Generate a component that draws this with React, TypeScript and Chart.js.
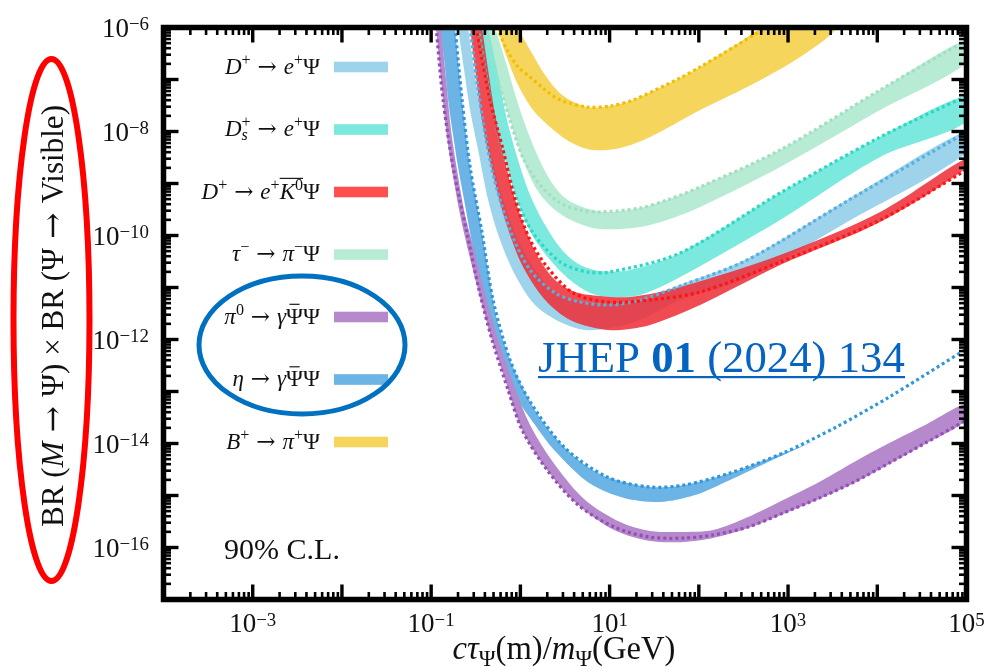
import { useEffect, useRef } from "react";
import { Chart, registerables } from "chart.js";

Chart.register(...registerables);

const FONT = '"Liberation Serif", "DejaVu Serif", serif';
const ARROW_FONT = '"DejaVu Serif", serif';

// ---- axes ----
const X_RANGE = [1e-4, 1e5];
const Y_RANGE = [1e-17, 1e-6];
const xTickExps = [-3, -1, 1, 3, 5];
const yTickExps = [-6, -8, -10, -12, -14, -16];

// ---- B+ -> pi+ Psi (yellow) ----
const bLower = [[0.548,1e-6],[0.691,2.96e-7],[0.942,7.84e-8],[1.388,2.59e-8],[2.153,1.22e-8],[3.606,6.28e-9],[6.363,4.41e-9],[13.12,4.82e-9],[28.44,7.84e-9],[103.4,2.59e-8],[348,7.18e-8],[1367,2.71e-7],[3373,1e-6]];
const bUpper = [[0.918,1e-6],[1.284,3.69e-7],[1.892,1.22e-7],[2.935,5.03e-8],[5.593,2.96e-8],[10.13,3.09e-8],[18.34,4.04e-8],[61.7,1.07e-7],[103.4,1.74e-7],[290,5.26e-7],[553,1e-6]];
const bDotted = [[0.548,1e-6],[0.709,3.69e-7],[0.942,1.74e-7],[1.284,1.12e-7],[1.892,6.29e-8],[2.787,4.04e-8],[5.593,2.96e-8],[10.13,3.09e-8],[18.34,4.04e-8],[61.7,1.07e-7],[103.4,1.74e-7],[450,7.84e-7],[553,1e-6]];

// ---- tau- -> pi- Psi (light green) ----
const tauLower = [[0.402,1e-6],[0.520,1.52e-7],[0.766,1.66e-8],[1.072,2.83e-9],[1.539,7.5e-10],[2.449,3.09e-10],[4.104,1.82e-10],[7.825,1.33e-10],[21.98,1.46e-10],[44.13,1.99e-10],[103.4,3.53e-10],[815,2.07e-9],[10780,2.59e-8],[1e5,2.08e-7]];
const tauUpper = [[0.520,1e-6],[0.674,2.37e-7],[0.992,2.59e-8],[1.461,4.41e-9],[2.153,1.17e-9],[3.170,5.26e-10],[5.313,3.38e-10],[9.376,2.83e-10],[21.98,3.38e-10],[44.13,4.82e-10],[103.4,8.57e-10],[815,4.41e-9],[10780,6.29e-8],[1e5,5.75e-7]];
const tauDotted = [[0.402,1e-6],[0.520,1.52e-7],[0.766,1.66e-8],[1.072,3.09e-9],[1.663,9.35e-10],[2.787,4.22e-10],[4.670,3.09e-10],[7.825,2.83e-10],[21.98,3.38e-10],[44.13,4.82e-10],[103.4,8.57e-10],[815,4.41e-9],[10780,6.29e-8],[1e5,5.75e-7]];

// ---- Ds+ -> e+ Psi (teal) ----
const dsLower = [[0.336,1e-6],[0.402,1.52e-7],[0.520,1.66e-8],[0.674,2.83e-9],[0.918,4.82e-10],[1.353,1.02e-10],[2.153,3.38e-11],[3.606,1.39e-11],[6.045,7.84e-12],[10.13,6.57e-12],[21.98,7.18e-12],[61.7,1.59e-11],[815,1.99e-10],[10780,3.24e-9],[1e5,1.52e-8]];
const dsUpper = [[0.435,1e-6],[0.548,1.52e-7],[0.709,1.66e-8],[0.942,2.83e-9],[1.284,6.01e-10],[1.892,1.59e-10],[2.935,5.26e-11],[4.670,2.71e-11],[7.825,2.08e-11],[16.97,2.17e-11],[61.7,4.60e-11],[815,6.57e-10],[10780,7.84e-9],[1e5,4.82e-8]];
const dsDotted = [[0.336,1e-6],[0.402,1.52e-7],[0.520,1.66e-8],[0.674,2.83e-9],[0.918,4.82e-10],[1.388,1.12e-10],[2.787,3.09e-11],[5.593,1.99e-11],[10.13,1.99e-11],[61.7,4.60e-11],[815,6.57e-10],[10780,7.84e-9],[1e5,4.82e-8]];

// ---- D+ -> e+ K0bar Psi (red) ----
const k0Lower = [[0.273,1e-6],[0.311,1.52e-7],[0.372,1.66e-8],[0.482,1.82e-9],[0.674,1.99e-10],[1.045,2.71e-11],[1.892,5.75e-12],[3.606,2.37e-12],[7.825,1.59e-12],[13.12,1.52e-12],[28.44,1.90e-12],[103.4,4.61e-12],[815,2.71e-11],[10780,1.82e-10],[1e5,1.99e-9]];
const k0Upper = [[0.372,1e-6],[0.435,1.52e-7],[0.534,1.66e-8],[0.709,1.82e-9],[0.992,2.48e-10],[1.539,4.22e-11],[2.449,1.39e-11],[4.104,8.19e-12],[7.825,6.87e-12],[16.97,6.57e-12],[61.7,1.02e-11],[815,4.22e-11],[10780,2.83e-10],[1e5,3.09e-9]];
const k0Dotted = [[0.319,1e-6],[0.457,4.04e-8],[0.640,4.41e-9],[0.873,4.82e-10],[1.284,8.19e-11],[1.993,2.48e-11],[3.899,7.84e-12],[9.376,5.26e-12],[28.44,5.75e-12],[103.4,8.19e-12],[815,3.09e-11],[10780,1.99e-10],[1e5,1.82e-9]];

// ---- D+ -> e+ Psi (light blue) ----
const dPlusLower = [[0.200,1e-6],[0.234,1.52e-7],[0.273,2.59e-8],[0.336,4.41e-9],[0.435,4.82e-10],[0.592,8.19e-11],[0.873,1.74e-11],[1.461,4.61e-12],[2.787,2.17e-12],[5.313,1.52e-12],[10.13,1.66e-12],[21.98,2.37e-12],[61.7,5.75e-12],[348,1.52e-11],[4600,1.82e-10],[1e5,3.86e-9]];
const dPlusUpper = [[0.259,1e-6],[0.303,1.52e-7],[0.362,2.59e-8],[0.457,4.41e-9],[0.640,4.82e-10],[0.942,8.19e-11],[1.461,2.17e-11],[2.449,8.19e-12],[4.670,5.26e-12],[10.13,4.82e-12],[21.98,5.75e-12],[61.7,1.12e-11],[348,3.53e-11],[4600,4.82e-10],[1e5,1.02e-8]];
const dPlusDotted = [[0.273,1e-6],[0.336,6.29e-8],[0.482,1.82e-9],[0.766,1.28e-10],[1.284,2.17e-11],[2.449,7.84e-12],[4.670,5.26e-12],[10.13,4.61e-12],[21.98,5.75e-12],[61.7,1.07e-11],[348,3.38e-11],[4600,4.60e-10],[1e5,9.77e-9]];

// ---- eta -> gamma Psibar Psi (blue) ----
const etaLower = [[0.126,1e-6],[0.140,2.37e-7],[0.155,4.04e-8],[0.176,8.57e-9],[0.200,2.07e-9],[0.234,4.82e-10],[0.273,1.12e-10],[0.319,2.71e-11],[0.372,5.75e-12],[0.457,1.33e-12],[0.592,4.04e-13],[0.942,6.87e-14],[1.461,2.27e-14],[2.387,7.50e-15],[5.890,1.74e-15],[14.54,8.95e-16],[36.83,7.50e-16],[90.9,1.02e-15],[224,1.99e-15],[568,4.22e-15],[1403,8.57e-15],[2013,1.12e-14]];
const etaUpper = [[0.185,1e-6],[0.200,2.37e-7],[0.222,4.04e-8],[0.246,8.57e-9],[0.273,2.07e-9],[0.319,4.82e-10],[0.372,1.12e-10],[0.424,2.71e-11],[0.494,5.75e-12],[0.548,2.37e-12],[0.766,4.04e-13],[1.252,6.87e-14],[1.892,2.27e-14],[3.090,8.57e-15],[5.313,3.86e-15],[9.376,2.27e-15],[27.72,1.46e-15],[68.4,1.59e-15],[224,2.71e-15],[881,6.57e-15],[2013,1.12e-14]];
const etaDotted = [[0.185,1e-6],[0.222,4.04e-8],[0.273,2.07e-9],[0.372,1.12e-10],[0.494,5.75e-12],[0.766,4.04e-13],[1.252,6.87e-14],[3.090,8.57e-15],[9.376,2.27e-15],[27.72,1.46e-15],[68.4,1.59e-15],[224,2.71e-15],[881,6.57e-15],[3460,2.07e-14],[13600,7.84e-14],[1e5,6.6e-13]];

// ---- pi0 -> gamma Psibar Psi (purple) ----
const pi0Lower = [[0.1135,1e-6],[0.129,9.77e-8],[0.147,1.07e-8],[0.171,1.82e-9],[0.211,2.48e-10],[0.259,5.26e-11],[0.336,8.95e-12],[0.457,1.33e-12],[0.674,1.66e-13],[1.045,1.82e-14],[1.993,3.09e-15],[4.436,6.57e-16],[11.23,2.17e-16],[28.44,1.33e-16],[68.4,1.28e-16],[144.6,1.52e-16],[357,2.37e-16],[881,4.41e-16],[2232,8.57e-16],[5509,1.74e-15],[13600,4.04e-15],[34440,9.77e-15],[1e5,2.83e-14]];
const pi0Upper = [[0.129,1e-6],[0.147,9.77e-8],[0.167,1.07e-8],[0.195,1.82e-9],[0.240,2.48e-10],[0.303,5.26e-11],[0.392,8.95e-12],[0.534,1.33e-12],[0.807,1.66e-13],[1.284,2.27e-14],[2.449,3.86e-15],[5.313,8.19e-16],[13.12,3.09e-16],[28.44,2.08e-16],[68.4,1.99e-16],[144.6,2.17e-16],[357,3.86e-16],[881,8.19e-16],[2232,1.82e-15],[5509,4.41e-15],[13600,1.02e-14],[34440,2.27e-14],[1e5,5.75e-14]];
const pi0Dotted = [[0.1135,1e-6],[0.136,4.04e-8],[0.176,2.07e-9],[0.252,1.12e-10],[0.344,8.95e-12],[0.482,9.77e-13],[0.728,1.07e-13],[1.045,1.82e-14],[1.993,3.09e-15],[4.436,6.57e-16],[11.23,2.48e-16],[27.72,1.59e-16],[68.4,1.52e-16],[144.6,1.74e-16],[357,2.48e-16],[881,4.60e-16],[2232,8.95e-16],[5509,1.82e-15],[13600,4.22e-15],[34440,1.02e-14],[1e5,2.83e-14]];

// ---- colours ----
const COL = {
  dPlus: "#9dd3eb", dPlusDot: "#5aafe0",
  ds: "#7be9dd", dsDot: "#2ad8c6",
  k0: "rgba(238,45,55,0.86)", k0Dot: "#ff1414", k0Legend: "#ff5050",
  tau: "#b8ebd4", tauDot: "#a0e0c0",
  pi0: "#b589cc", pi0Dot: "#9450b4",
  eta: "#6cb4e6", etaDot: "#2f96dc",
  b: "#f6d55c", bDot: "#f0c000",
};

type Run = { t: string; it?: boolean; b?: boolean; sup?: boolean; sub?: boolean; rel?: number; keep?: boolean; bar?: boolean; ovS?: boolean; ovE?: boolean; arrow?: boolean };

const ARROW: Run = { t: "→", rel: 0.3, arrow: true };

const legendEntries: { runs: Run[]; color: string }[] = [
  { color: COL.dPlus, runs: [{ t: "D", it: true }, { t: "+", sup: true }, ARROW, { t: "e", it: true }, { t: "+", sup: true }, { t: "Ψ" }] },
  { color: COL.ds, runs: [{ t: "D", it: true }, { t: "+", sup: true, keep: true }, { t: "s", sub: true, it: true }, ARROW, { t: "e", it: true }, { t: "+", sup: true }, { t: "Ψ" }] },
  { color: COL.k0Legend, runs: [{ t: "D", it: true }, { t: "+", sup: true }, ARROW, { t: "e", it: true }, { t: "+", sup: true }, { t: "K", it: true, ovS: true }, { t: "0", sup: true, ovE: true }, { t: "Ψ" }] },
  { color: COL.tau, runs: [{ t: "τ", it: true }, { t: "−", sup: true }, ARROW, { t: "π", it: true }, { t: "−", sup: true }, { t: "Ψ" }] },
  { color: COL.pi0, runs: [{ t: "π", it: true }, { t: "0", sup: true }, ARROW, { t: "γ", it: true }, { t: "Ψ", bar: true }, { t: "Ψ" }] },
  { color: COL.eta, runs: [{ t: "η", it: true }, ARROW, { t: "γ", it: true }, { t: "Ψ", bar: true }, { t: "Ψ" }] },
  { color: COL.b, runs: [{ t: "B", it: true }, { t: "+", sup: true }, ARROW, { t: "π", it: true }, { t: "+", sup: true }, { t: "Ψ" }] },
];

const yTitleRuns: Run[] = [{ t: "BR (" }, { t: "M", it: true }, ARROW, { t: "Ψ) " }, { t: "×" }, { t: " BR (Ψ" }, ARROW, { t: "Visible)" }];
const xTitleRuns: Run[] = [{ t: "c", it: true }, { t: "τ", it: true }, { t: "Ψ", sub: true }, { t: "(m)/" }, { t: "m", it: true }, { t: "Ψ", sub: true }, { t: "(GeV)" }];
const clLabel = "90% C.L.";
const refRuns: Run[] = [{ t: "JHEP " }, { t: "01", b: true }, { t: " (2024) 134" }];

function richText(ctx: CanvasRenderingContext2D, runs: Run[], x: number, y: number, s: number, raise: number, lower: number, draw: boolean) {
  let cx = x;
  let keepAdv = 0;
  let ovX = x;
  for (const r of runs) {
    const size = r.sup || r.sub ? s * 0.7 : s;
    const fam = r.arrow ? ARROW_FONT : FONT;
    ctx.font = `${r.it ? "italic " : ""}${r.b ? "bold " : ""}${size}px ${fam}`;
    const pad = (r.rel || 0) * s;
    const w = ctx.measureText(r.t).width;
    const gx = cx + pad;
    const gy = y + (r.sup ? -raise * s : r.sub ? lower * s : 0);
    if (r.ovS) ovX = gx;
    if (draw) {
      ctx.fillText(r.t, gx, gy);
      if (r.bar) ctx.fillRect(gx + w * 0.2, gy - s * 0.86, w * 0.6, Math.max(1, s * 0.05));
      if (r.ovE) ctx.fillRect(ovX, y - s * 0.9, gx + w - ovX, Math.max(1, s * 0.05));
    }
    const adv = w + 2 * pad;
    if (r.keep) {
      keepAdv = Math.max(keepAdv, adv);
      continue;
    }
    cx += Math.max(adv, keepAdv);
    keepAdv = 0;
  }
  return cx - x;
}

const pts = (arr: number[][]) => arr.map(([x, y]) => ({ x, y }));
const band = (lower: number[][], upper: number[][], color: string, order: number) => ({
  data: [...pts(lower), ...pts(upper).reverse()],
  fill: "shape",
  backgroundColor: color,
  borderColor: "rgba(0,0,0,0)",
  borderWidth: 0,
  pointRadius: 0,
  tension: 0.3,
  order,
  clip: 0,
});
const dotted = (d: number[][], color: string, order: number) => ({
  data: pts(d),
  fill: false,
  borderColor: color,
  borderWidth: 3.2,
  borderDash: [3, 3],
  pointRadius: 0,
  tension: 0.3,
  order,
  clip: 0,
});

const decor = {
  id: "decor",
  afterDraw(chart: any) {
    const ctx: CanvasRenderingContext2D = chart.ctx;
    const { left, right, top, bottom } = chart.chartArea;
    const xs = chart.scales.x;
    const ys = chart.scales.y;
    ctx.save();
    ctx.strokeStyle = "#000";
    ctx.fillStyle = "#000";
    ctx.lineCap = "butt";
    const seg = (x1: number, y1: number, x2: number, y2: number) => {
      ctx.beginPath();
      ctx.moveTo(x1, y1);
      ctx.lineTo(x2, y2);
      ctx.stroke();
    };
    // ticks (inward, all four sides)
    for (let e = -4; e <= 4; e++) {
      for (let m = 1; m <= 9; m++) {
        const v = m * Math.pow(10, e);
        if (v <= X_RANGE[0] * 1.0001 || v >= X_RANGE[1] * 0.9999) continue;
        const px = xs.getPixelForValue(v);
        const len = m === 1 ? 15 : 7.5;
        ctx.lineWidth = m === 1 ? 3.4 : 2.6;
        seg(px, bottom, px, bottom - len);
        seg(px, top, px, top + len);
      }
    }
    for (let e = -17; e <= -7; e++) {
      for (let m = 1; m <= 9; m++) {
        const v = m * Math.pow(10, e);
        if (v <= Y_RANGE[0] * 1.0001 || v >= Y_RANGE[1] * 0.9999) continue;
        const py = ys.getPixelForValue(v);
        const len = m === 1 ? 15 : 7.5;
        ctx.lineWidth = m === 1 ? 3.4 : 2.6;
        seg(left, py, left + len, py);
        seg(right, py, right - len, py);
      }
    }
    ctx.lineWidth = 5.5;
    ctx.strokeRect(left, top, right - left, bottom - top);

    ctx.textAlign = "left";
    ctx.textBaseline = "alphabetic";
    ctx.fillStyle = "#111";
    // tick labels
    const TS = 27;
    for (const e of yTickExps) {
      const py = ys.getPixelForValue(Math.pow(10, e));
      const runs: Run[] = [{ t: "10" }, { t: (e < 0 ? "−" : "") + Math.abs(e), sup: true }];
      const w = richText(ctx, runs, 0, 0, TS, 0.24, 0, false);
      richText(ctx, runs, 149 - w, py + 9.2, TS, 0.24, 0, true);
    }
    for (const e of xTickExps) {
      const px = xs.getPixelForValue(Math.pow(10, e));
      const runs: Run[] = [{ t: "10" }, { t: (e < 0 ? "−" : "") + Math.abs(e), sup: true }];
      const w = richText(ctx, runs, 0, 0, TS, 0.24, 0, false);
      richText(ctx, runs, px - w / 2, 632, TS, 0.24, 0, true);
    }

    // x title
    {
      const w0 = richText(ctx, xTitleRuns, 0, 0, 28, 0.35, 0.22, false);
      const s = (28 * 223) / w0;
      const w = richText(ctx, xTitleRuns, 0, 0, s, 0.35, 0.22, false);
      richText(ctx, xTitleRuns, 564 - w / 2, 659, s, 0.35, 0.22, true);
    }
    // y title
    {
      const w0 = richText(ctx, yTitleRuns, 0, 0, 28, 0.35, 0.2, false);
      const s = (28 * 422) / w0;
      const w = richText(ctx, yTitleRuns, 0, 0, s, 0.35, 0.2, false);
      ctx.save();
      ctx.translate(63, 316);
      ctx.rotate(-Math.PI / 2);
      richText(ctx, yTitleRuns, -w / 2, 0, s, 0.35, 0.2, true);
      ctx.restore();
    }

    // legend
    legendEntries.forEach((ent, i) => {
      const cy = 67 + i * 62.5;
      ctx.fillStyle = ent.color;
      ctx.fillRect(334, cy - 5.3, 54, 10.6);
      ctx.fillStyle = "#111";
      const w = richText(ctx, ent.runs, 0, 0, 23, 0.38, 0.16, false);
      richText(ctx, ent.runs, 320 - w, cy + 6.5, 23, 0.38, 0.16, true);
    });

    // 90% C.L.
    ctx.fillStyle = "#111";
    {
      ctx.font = `28px ${FONT}`;
      const w0 = ctx.measureText(clLabel).width;
      ctx.font = `${(28 * 116) / w0}px ${FONT}`;
      ctx.fillText(clLabel, 224, 559);
    }

    // reference
    ctx.fillStyle = "#0563c1";
    {
      const w0 = richText(ctx, refRuns, 0, 0, 40, 0, 0, false);
      const s = (40 * 367) / w0;
      richText(ctx, refRuns, 538, 372, s, 0, 0, true);
      ctx.fillRect(538, 376, 367, 2.2);
    }

    // annotation ellipses
    ctx.lineWidth = 6;
    ctx.strokeStyle = "#ff0000";
    ctx.beginPath();
    ctx.ellipse(51.5, 320, 38, 261, 0, 0, Math.PI * 2);
    ctx.stroke();
    ctx.lineWidth = 5;
    ctx.strokeStyle = "#0070c0";
    ctx.beginPath();
    ctx.ellipse(302, 345, 103, 69, 0, 0, Math.PI * 2);
    ctx.stroke();
    ctx.restore();
  },
};

export default function App() {
  const ref = useRef<HTMLCanvasElement>(null);
  useEffect(() => {
    const datasets: any[] = [
      band(bLower, bUpper, COL.b, 30),
      band(tauLower, tauUpper, COL.tau, 29),
      band(dsLower, dsUpper, COL.ds, 28),
      band(dPlusLower, dPlusUpper, COL.dPlus, 27),
      band(k0Lower, k0Upper, COL.k0, 26),
      band(etaLower, etaUpper, COL.eta, 25),
      band(pi0Lower, pi0Upper, COL.pi0, 24),
      dotted(bDotted, COL.bDot, 7),
      dotted(tauDotted, COL.tauDot, 6),
      dotted(dsDotted, COL.dsDot, 5),
      dotted(dPlusDotted, COL.dPlusDot, 4),
      dotted(k0Dotted, COL.k0Dot, 3),
      dotted(etaDotted, COL.etaDot, 2),
      dotted(pi0Dotted, COL.pi0Dot, 1),
    ];
    const chart = new Chart(ref.current as HTMLCanvasElement, {
      type: "line",
      data: { datasets },
      options: {
        responsive: false,
        animation: false,
        devicePixelRatio: 1,
        events: [],
        layout: { padding: { left: 163.5, top: 27.5, right: 19.5, bottom: 67.5 } },
        scales: {
          x: { type: "logarithmic", min: X_RANGE[0], max: X_RANGE[1], display: false },
          y: { type: "logarithmic", min: Y_RANGE[0], max: Y_RANGE[1], display: false },
        },
        plugins: { legend: { display: false }, tooltip: { enabled: false } },
      },
      plugins: [decor],
    } as any);
    return () => chart.destroy();
  }, []);
  return (
    <div style={{ position: "absolute", left: 0, top: 0, width: 986, height: 667, background: "#fff" }}>
      <canvas ref={ref} width={986} height={667} style={{ display: "block", width: 986, height: 667 }} />
    </div>
  );
}
